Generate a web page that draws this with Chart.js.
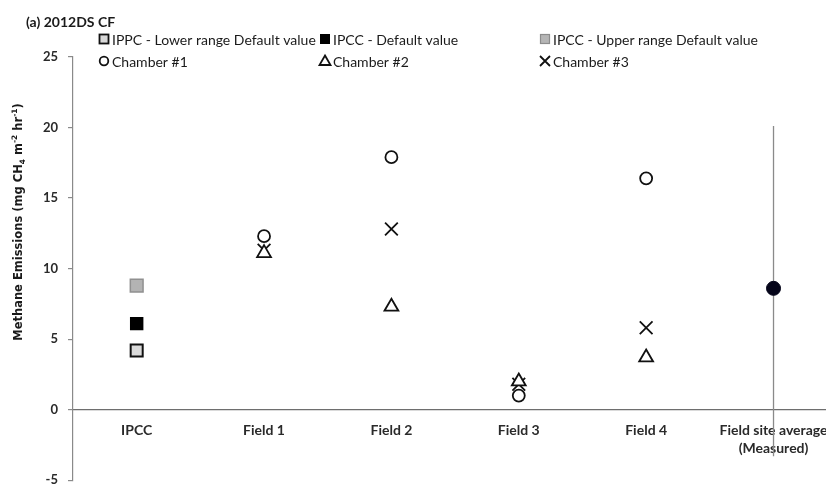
<!DOCTYPE html>
<html>
<head>
<meta charset="utf-8">
<script src="https://cdn.jsdelivr.net/npm/chart.js@4.4.1/dist/chart.umd.min.js"></script>
<style>
  html, body { margin: 0; padding: 0; background: #fff; overflow: hidden; }
  /* El lienzo es algo mayor que la ventana: el borde derecho queda recortado como en el original */
  #contenedor { position: relative; width: 848px; height: 491px; }
</style>
</head>
<body>
<div id="contenedor"><canvas id="grafico"></canvas></div>
<script>
// Categorías del eje X
const categorias = ['IPCC', 'Field 1', 'Field 2', 'Field 3', 'Field 4', ['Field site average', '(Measured)']];

// Valores por serie (null = sin punto en esa categoría)
const ipccInferior = [4.2, null, null, null, null, null];
const ipccDefecto = [6.1, null, null, null, null, null];
const ipccSuperior = [8.8, null, null, null, null, null];
const camara1 = [null, 12.3, 17.9, 1.0, 16.4, null];
const camara2 = [null, 11.1, 7.3, 2.0, 3.7, null];
const camara3 = [null, 11.3, 12.8, 1.8, 5.8, null];
const promedioCampo = [null, null, null, null, null, 8.6];
// Barra de error del promedio: [mínimo, máximo]
const errorPromedio = [null, null, null, null, null, [-3.3, 20.1]];

// Etiquetas del eje Y
const ticksY = [-5, 0, 5, 10, 15, 20, 25];

const nombres = [
    'IPPC - Lower range Default value',
    'IPCC - Default value',
    'IPCC - Upper range Default value',
    'Chamber #1',
    'Chamber #2',
    'Chamber #3'
];

const fuente = 'Lato, "Open Sans", sans-serif';

// Dibuja un marcador de la leyenda
function dibujarMarcador(ctx, tipo, x, y) {
    ctx.save();
    ctx.lineWidth = 1.8;
    ctx.strokeStyle = '#111';
    if (tipo === 'inferior') {
        ctx.fillStyle = '#d9d9d9';
        ctx.fillRect(x - 4.5, y - 4.5, 9, 9);
        ctx.strokeRect(x - 4.5, y - 4.5, 9, 9);
    } else if (tipo === 'defecto') {
        ctx.fillStyle = '#000';
        ctx.fillRect(x - 5, y - 5, 10, 10);
    } else if (tipo === 'superior') {
        ctx.fillStyle = '#b5b5b5';
        ctx.strokeStyle = '#8c8c8c';
        ctx.lineWidth = 1.2;
        ctx.fillRect(x - 4.5, y - 4.5, 9, 9);
        ctx.strokeRect(x - 4.5, y - 4.5, 9, 9);
    } else if (tipo === 'circulo') {
        ctx.beginPath();
        ctx.arc(x, y, 4.3, 0, Math.PI * 2);
        ctx.stroke();
    } else if (tipo === 'triangulo') {
        ctx.beginPath();
        ctx.moveTo(x, y - 5.5);
        ctx.lineTo(x + 5.5, y + 4);
        ctx.lineTo(x - 5.5, y + 4);
        ctx.closePath();
        ctx.stroke();
    } else if (tipo === 'cruz') {
        ctx.beginPath();
        ctx.moveTo(x - 5, y - 5);
        ctx.lineTo(x + 5, y + 5);
        ctx.moveTo(x + 5, y - 5);
        ctx.lineTo(x - 5, y + 5);
        ctx.stroke();
    }
    ctx.restore();
}

// Plugin: título, leyenda en dos filas, título del eje Y y barra de error
const pluginExtras = {
    id: 'extras',
    beforeDatasetsDraw(chart) {
        const ctx = chart.ctx;
        const xs = chart.scales.x;
        const ys = chart.scales.y;
        ctx.save();
        ctx.strokeStyle = '#8a8a8a';
        ctx.lineWidth = 1.3;
        errorPromedio.forEach((e, i) => {
            if (!e) return;
            const x = xs.getPixelForValue(i);
            ctx.beginPath();
            ctx.moveTo(x, ys.getPixelForValue(e[0]));
            ctx.lineTo(x, ys.getPixelForValue(e[1]));
            ctx.stroke();
        });
        ctx.restore();
    },
    afterDraw(chart) {
        const ctx = chart.ctx;
        ctx.save();
        ctx.fillStyle = '#1a1a1a';
        ctx.textBaseline = 'middle';

        // Título
        ctx.font = 'bold 14px ' + fuente;
        ctx.fillText('(a) 2012DS CF', 26, 22);

        // Leyenda
        const tipos = ['inferior', 'defecto', 'superior', 'circulo', 'triangulo', 'cruz'];
        const columnas = [104, 325, 545];
        const filas = [39, 61];
        ctx.font = '14px ' + fuente;
        nombres.forEach((nombre, i) => {
            const x = columnas[i % 3];
            const y = filas[Math.floor(i / 3)];
            dibujarMarcador(ctx, tipos[i], x, y);
            ctx.fillStyle = '#1a1a1a';
            ctx.fillText(nombre, x + 8, y + 1);
        });

        // Título del eje Y con subíndices y superíndices
        ctx.translate(19, 222);
        ctx.rotate(-Math.PI / 2);
        const partes = [
            ['Methane Emissions (mg CH', 0],
            ['4', 1],
            [' m', 0],
            ['-2', -1],
            [' hr', 0],
            ['-1', -1],
            [')', 0]
        ];
        const normal = 'bold 11.5px "DejaVu Sans", sans-serif';
        const chica = 'bold 7.5px "DejaVu Sans", sans-serif';
        let ancho = 0;
        partes.forEach(p => {
            ctx.font = p[1] === 0 ? normal : chica;
            ancho += ctx.measureText(p[0]).width;
        });
        let px = -ancho / 2;
        partes.forEach(p => {
            ctx.font = p[1] === 0 ? normal : chica;
            ctx.fillText(p[0], px, p[1] * 4);
            px += ctx.measureText(p[0]).width;
        });
        ctx.restore();
    }
};

const ctx = document.getElementById('grafico').getContext('2d');
new Chart(ctx, {
    type: 'line',
    data: {
        labels: categorias,
        datasets: [
            {
                label: nombres[0], data: ipccInferior,
                pointStyle: 'rect', pointRadius: 8.5,
                backgroundColor: '#dadada', borderColor: '#111', borderWidth: 2
            },
            {
                label: nombres[1], data: ipccDefecto,
                pointStyle: 'rect', pointRadius: 9.5,
                backgroundColor: '#000', borderColor: '#000', borderWidth: 0
            },
            {
                label: nombres[2], data: ipccSuperior,
                pointStyle: 'rect', pointRadius: 9,
                backgroundColor: '#b3b3b3', borderColor: '#909090', borderWidth: 1.5
            },
            {
                label: nombres[3], data: camara1,
                pointStyle: 'circle', pointRadius: 6,
                backgroundColor: '#fff', borderColor: '#111', borderWidth: 1.8
            },
            {
                label: nombres[4], data: camara2,
                pointStyle: 'triangle', pointRadius: 8,
                backgroundColor: '#fff', borderColor: '#111', borderWidth: 1.8
            },
            {
                label: nombres[5], data: camara3,
                pointStyle: 'crossRot', pointRadius: 9,
                backgroundColor: '#111', borderColor: '#111', borderWidth: 1.8
            },
            {
                label: 'Field site average', data: promedioCampo,
                pointStyle: 'circle', pointRadius: 7,
                backgroundColor: '#05051a', borderColor: '#05051a', borderWidth: 1
            }
        ]
    },
    options: {
        responsive: true,
        maintainAspectRatio: false,
        animation: false,
        showLine: false,
        layout: { padding: { top: 57, left: 0, right: 0, bottom: 0 } },
        plugins: {
            legend: { display: false },
            title: { display: false },
            tooltip: { enabled: false }
        },
        scales: {
            x: {
                type: 'category',
                offset: true,
                position: { y: 0 },
                grid: { display: false, drawTicks: false },
                border: { display: true, color: '#6e6e6e', width: 1.2 },
                ticks: {
                    color: '#2a2a2a',
                    padding: 12,
                    maxRotation: 0,
                    autoSkip: false,
                    font: { family: fuente, size: 14, weight: 'bold', lineHeight: 1.3 }
                },
                afterFit(scale) {
                    scale.height = 0;
                    scale.paddingLeft = 0;
                    scale.paddingRight = 0;
                }
            },
            y: {
                min: -5,
                max: 25,
                afterBuildTicks(scale) {
                    scale.ticks = ticksY.map(v => ({ value: v }));
                },
                grid: { drawOnChartArea: false, drawTicks: true, tickLength: 5, color: '#8a8a8a', lineWidth: 1.2 },
                border: { display: true, color: '#8a8a8a', width: 1.2 },
                ticks: {
                    color: '#2a2a2a',
                    padding: 10,
                    font: { family: fuente, size: 13, weight: 'bold' }
                },
                afterFit(scale) {
                    scale.width = 73;
                    scale.paddingTop = 0;
                    scale.paddingBottom = 0;
                }
            }
        }
    },
    plugins: [pluginExtras]
});
</script>
</body>
</html>
